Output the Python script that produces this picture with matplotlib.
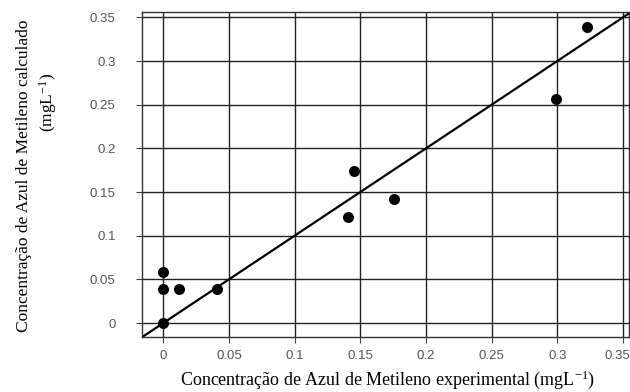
import matplotlib
matplotlib.use("Agg")
import matplotlib.pyplot as plt
import matplotlib.transforms as mtransforms

# dados
experimental = [0.0, 0.0, 0.0, 0.0117, 0.0406, 0.1406, 0.1454, 0.1759, 0.2992, 0.3226]
calculado = [0.0, 0.039, 0.059, 0.039, 0.039, 0.121, 0.174, 0.1416, 0.2565, 0.3393]
ticks = [0, 0.05, 0.1, 0.15, 0.2, 0.25, 0.3, 0.35]
tick_labels = ["0", "0.05", "0.1", "0.15", "0.2", "0.25", "0.3", "0.35"]

plt.rcParams["mathtext.default"] = "regular"

W, H = 630, 392
fig = plt.figure(figsize=(6.3, 3.92), dpi=100)
ax = fig.add_axes([0.2254, 0.1403, 0.7726, 0.8287])

ax.set_xlim(-0.0162, 0.3544)
ax.set_ylim(-0.016, 0.356)

# grade
ax.set_xticks(ticks)
ax.set_yticks(ticks)
ax.set_xticklabels(tick_labels)
ax.set_yticklabels(tick_labels)
ax.grid(True, color="#222222", linewidth=1.0)
ax.set_axisbelow(True)

# linha y = x
ax.plot([-0.02, 0.36], [-0.02, 0.36], color="black", linewidth=1.6)
ax.scatter(experimental, calculado, s=48, color="black", zorder=3)

for s in ax.spines.values():
    s.set_color("#333333")
    s.set_linewidth(1.0)

ax.tick_params(axis="both", direction="out", length=4, width=0.8, colors="#444444",
               labelsize=9.5)
ax.tick_params(axis="y", pad=15)
ax.tick_params(axis="x", pad=5)
for lbl in ax.get_xticklabels() + ax.get_yticklabels():
    lbl.set_family("Liberation Sans")
    lbl.set_color("#555555")

# último rótulo do eixo x um pouco para a esquerda
last = ax.get_xticklabels()[-1]
last.set_transform(last.get_transform() +
                   mtransforms.ScaledTranslation(-6 / 100, 0, fig.dpi_scale_trans))

fig.text(388 / W, 1 - 380 / H,
         "Concentração de Azul de Metileno experimental (mgL$^{-1}$)",
         family="Liberation Serif", fontsize=13, ha="center", va="center")
fig.text(24 / W, 1 - 176 / H, "Concentração de Azul de Metileno calculado",
         family="Liberation Serif", fontsize=12.5, ha="center", va="center",
         rotation=90)
fig.text(48 / W, 1 - 102 / H, "(mgL$^{-1}$)",
         family="Liberation Serif", fontsize=12.5, ha="center", va="center",
         rotation=90)

plt.savefig("out.png", dpi=100)
